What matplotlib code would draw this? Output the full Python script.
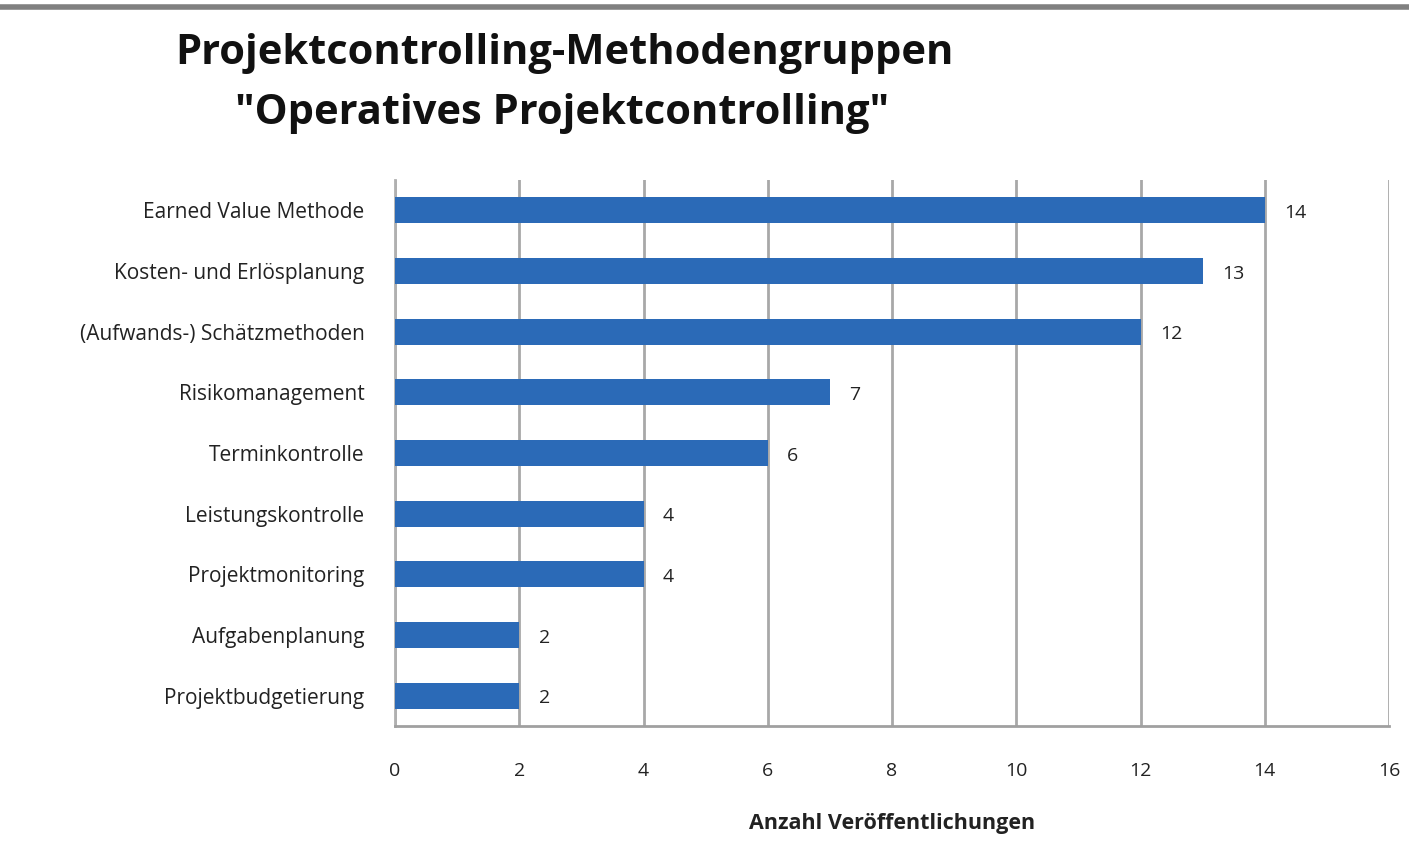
import matplotlib.pyplot as plt

categories = ["Earned Value Methode", "Kosten- und Erlösplanung", "(Aufwands-) Schätzmethoden",
              "Risikomanagement", "Terminkontrolle", "Leistungskontrolle",
              "Projektmonitoring", "Aufgabenplanung", "Projektbudgetierung"]
counts = [14, 13, 12, 7, 6, 4, 4, 2, 2]
xticks = [0, 2, 4, 6, 8, 10, 12, 14, 16]

plt.rcParams['font.family'] = ['Open Sans', 'DejaVu Sans']

fig = plt.figure(figsize=(14.09, 8.67), dpi=100)
ax = fig.add_axes([395 / 1409, 1 - 726 / 867, 994 / 1409, 546 / 867])

y = list(range(len(categories)))
ax.barh(y, counts, height=0.43, color='#2B6AB7', zorder=3)
for yi, v in zip(y, counts):
    ax.annotate(str(v), (v, yi), xytext=(14, -2), textcoords='offset points',
                va='center', ha='left', fontsize=14, color='#222222')

ax.set_ylim(len(categories) - 0.5, -0.5)
ax.set_xlim(0, 16)
ax.set_xticks(xticks)
ax.set_yticks(y)
ax.set_yticklabels(categories, fontsize=15, color='#222222')
ax.tick_params(axis='x', labelsize=14, colors='#222222', length=0, pad=26)
ax.tick_params(axis='y', length=0, pad=22)
ax.grid(axis='x', color='#A8A8A8', linewidth=2, zorder=0)
for s in ['top', 'right']:
    ax.spines[s].set_visible(False)
ax.spines['left'].set_color('#B0B0B0')
ax.spines['left'].set_linewidth(2)
ax.spines['bottom'].set_color('#A0A0A0')
ax.spines['bottom'].set_linewidth(2)
ax.set_xlabel('Anzahl Veröffentlichungen', fontsize=15.5, fontweight='bold',
              color='#222222', labelpad=24)

fig.text(564 / 1409, 1 - 54 / 867, 'Projektcontrolling-Methodengruppen',
         ha='center', va='center', fontsize=30, fontweight='bold', color='#111111')
fig.text(562 / 1409, 1 - 114 / 867, '"Operatives Projektcontrolling"',
         ha='center', va='center', fontsize=30, fontweight='bold', color='#111111')
fig.add_artist(plt.Line2D([0, 1], [1 - 7 / 867, 1 - 7 / 867], color='#808080', linewidth=4))

fig.savefig('out.png', dpi=100)
